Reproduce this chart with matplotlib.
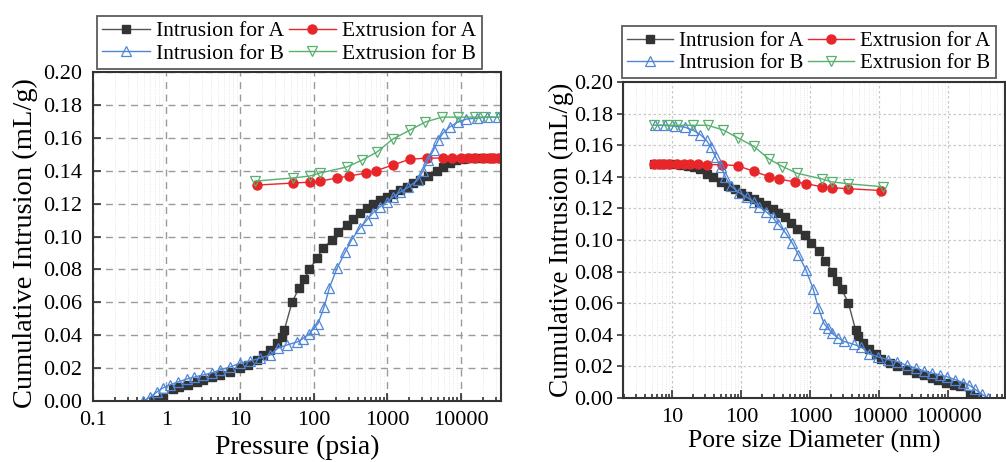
import numpy as np
import matplotlib
matplotlib.use('Agg')
import matplotlib.pyplot as plt
from matplotlib.ticker import LogLocator, FuncFormatter, MultipleLocator, NullFormatter

plt.rcParams['font.family'] = ['Liberation Serif', 'DejaVu Serif']

# pressure (psia) and cumulative intrusion (mL/g)
p_int_a = [0.70, 0.89, 1.22, 1.5, 1.95, 2.6, 3.1, 4.1, 5.3, 7.3, 10, 12.9, 17, 20.6, 25.5,
           31.7, 37, 40, 51, 63.5, 74, 88, 111, 136, 178, 215, 284, 343, 424, 530, 640,
           800, 1000, 1200, 1500, 1850, 2250, 2800, 3600, 4750, 5800, 7100, 8800, 10900,
           13500, 17000, 21000, 26000, 33000]
v_int_a = [0.0006, 0.0024, 0.0073, 0.0085, 0.0097, 0.0116, 0.0128, 0.0146, 0.0158, 0.0176,
           0.020, 0.0219, 0.025, 0.028, 0.031, 0.035, 0.039, 0.043, 0.060, 0.0687, 0.074,
           0.080, 0.087, 0.093, 0.098, 0.103, 0.107, 0.1106, 0.1143, 0.1173, 0.1198, 0.122,
           0.124, 0.126, 0.128, 0.130, 0.1325, 0.1343, 0.137, 0.140, 0.142, 0.1447, 0.1465,
           0.147, 0.1475, 0.1478, 0.148, 0.148, 0.148]

p_ext_a = [33000, 28000, 25000, 20000, 15800, 12500, 10000, 7600, 5800, 3470, 2050, 1200,
           710, 520, 306, 210, 122, 89, 52, 17]
v_ext_a = [0.148, 0.148, 0.148, 0.148, 0.148, 0.148, 0.148, 0.1478, 0.1477, 0.1477, 0.147,
           0.1435, 0.140, 0.1386, 0.1368, 0.1356, 0.1337, 0.1331, 0.1325, 0.1313]

p_int_b = [0.48, 0.6, 0.74, 0.9, 1.1, 1.43, 1.9, 2.4, 3.1, 4.1, 5.3, 7.3, 10, 13.6, 18.7,
           25.5, 33, 43, 60, 72, 88, 100, 115, 139, 165, 210, 270, 330, 424, 530, 640, 800,
           1000, 1200, 1500, 1950, 2600, 3100, 3600, 4300, 5000, 5800, 7100, 9200, 12000,
           16500, 23000, 32000]
v_int_b = [0.0, 0.0024, 0.0055, 0.008, 0.0097, 0.0116, 0.0134, 0.0146, 0.0158, 0.017, 0.0188,
           0.0207, 0.023, 0.0243, 0.026, 0.028, 0.0322, 0.034, 0.0359, 0.038, 0.041, 0.044,
           0.047, 0.057, 0.069, 0.081, 0.0906, 0.098, 0.105, 0.110, 0.1143, 0.118, 0.121,
           0.124, 0.127, 0.130, 0.1343, 0.140, 0.1465, 0.1526, 0.1587, 0.163, 0.1666, 0.1696,
           0.1714, 0.172, 0.1726, 0.1726]

p_ext_b = [34000, 21500, 15600, 9200, 5600, 3300, 2050, 1200, 730, 460, 285, 122, 89, 52, 16]
v_ext_b = [0.1726, 0.1726, 0.1726, 0.1726, 0.1726, 0.1696, 0.1647, 0.1593, 0.1514, 0.1465,
           0.1423, 0.1386, 0.1368, 0.1356, 0.1337]

# Washburn conversion: pore diameter (nm) = 180900 / pressure (psia)
washburn_nm_psia = 180900.0

series = [
    ('Intrusion for A', p_int_a, v_int_a, dict(color='#555555', marker='s', ms=5.5,
                                               mfc='#333333', mec='#333333', lw=1)),
    ('Extrusion for A', p_ext_a, v_ext_a, dict(color='#e8262a', marker='o', ms=6.5,
                                               mfc='#e8262a', mec='#e8262a', lw=1)),
    ('Intrusion for B', p_int_b, v_int_b, dict(color='#4f86d6', marker='^', ms=7,
                                               mfc='none', mec='#4f86d6', lw=1, mew=0.9)),
    ('Extrusion for B', p_ext_b, v_ext_b, dict(color='#57b06e', marker='v', ms=7,
                                               mfc='none', mec='#57b06e', lw=1, mew=0.9)),
]

fig = plt.figure(figsize=(10.06, 4.62), dpi=100)
ax1 = fig.add_axes([0.0924, 0.132, 0.4056, 0.712])
ax2 = fig.add_axes([0.619, 0.1385, 0.380, 0.684])


def fmt_num(v, pos):
    if v >= 1:
        return f'{v:.0f}'
    return f'{v:g}'


def style(ax, major_grid, ydir):
    ax.set_xscale('log')
    ax.set_ylim(0, 0.20)
    ax.yaxis.set_major_locator(MultipleLocator(0.02))
    ax.yaxis.set_major_formatter(FuncFormatter(lambda v, p: f'{v:.2f}'))
    ax.xaxis.set_major_locator(LogLocator(base=10, numticks=20))
    ax.xaxis.set_minor_locator(LogLocator(base=10, subs=np.arange(2, 10), numticks=20))
    ax.xaxis.set_major_formatter(FuncFormatter(fmt_num))
    ax.xaxis.set_minor_formatter(NullFormatter())
    ax.tick_params(which='both', direction='in', top=False, right=False,
                   labelsize=16, color='#333333', width=1.2)
    ax.tick_params(which='major', length=6)
    ax.tick_params(which='minor', length=3)
    ax.tick_params(axis='x', pad=7)
    if ydir == 'out':
        ax.tick_params(axis='y', direction='out', length=4, pad=3)
    else:
        ax.tick_params(axis='y', pad=8)
    for s in ax.spines.values():
        s.set_color('#333333')
        s.set_linewidth(1.5)
    ax.grid(True, which='major', **major_grid)
    ax.grid(True, which='minor', axis='x', color='#e2e2e2', ls=':', lw=0.6)
    ax.set_axisbelow(True)


handles = []
for label, p, v, kw in series:
    h, = ax1.plot(p, v, label=label, **kw)
    handles.append(h)
    d = [washburn_nm_psia / x for x in p]
    ax2.plot(d, v, label=label, **kw)

style(ax1, dict(color='#9a9a9a', ls=(0, (5, 4)), lw=1), 'in')
ax1.set_xlim(0.1, 35500)
ax1.set_xlabel('Pressure (psia)', fontsize=20, labelpad=4)
ax1.set_ylabel('Cumulative Intrusion (mL/g)', fontsize=20.5)
ax1.yaxis.set_label_coords(-0.135, 0.48)

style(ax2, dict(color='#c8c8c8', ls=(0, (2, 2)), lw=0.9), 'out')
ax2.set_xlim(1.9, 660000)
ax2.set_xlabel('Pore size Diameter (nm)', fontsize=18.5, labelpad=2)
ax2.set_ylabel('Cumulative Intrusion (mL/g)', fontsize=19.5)
ax2.yaxis.set_label_coords(-0.128, 0.5)

# legend order row-wise: A intrusion, A extrusion / B intrusion, B extrusion
order = [0, 2, 1, 3]
leg_kw = dict(ncol=2, fontsize=15.5, frameon=True, fancybox=False, edgecolor='#333333',
              handlelength=2.2, handletextpad=0.3, columnspacing=0.2, labelspacing=0.1,
              borderpad=0.25, borderaxespad=0)
l1 = ax1.legend([handles[i] for i in order], [series[i][0] for i in order],
                loc='lower left', bbox_to_anchor=(97 / 1006, 1 - 69 / 462),
                bbox_transform=fig.transFigure, **leg_kw)
leg_kw['fontsize'] = 15
l2 = ax2.legend([handles[i] for i in order], [series[i][0] for i in order],
                loc='lower left', bbox_to_anchor=(622 / 1006, 1 - 78 / 462),
                bbox_transform=fig.transFigure, **leg_kw)
for leg in (l1, l2):
    leg.get_frame().set_linewidth(1.3)

fig.savefig('out.png', dpi=100)
